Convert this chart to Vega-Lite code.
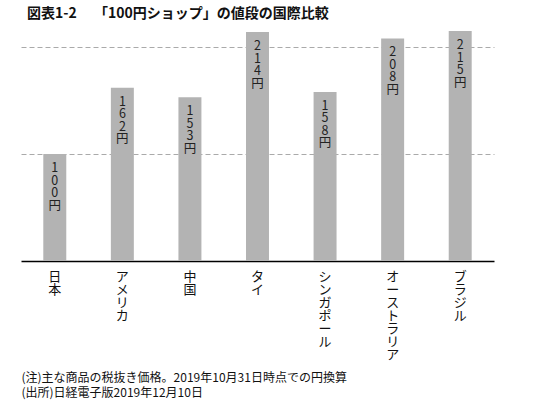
{
  "$schema": "https://vega.github.io/schema/vega-lite/v6.json",
  "width": 473,
  "height": 230,
  "autosize": {"type": "none"},
  "padding": {"left": 21, "top": 31, "right": 46, "bottom": 150},
  "config": {
    "font": "Noto Sans CJK JP",
    "view": {"stroke": null}
  },
  "title": {
    "text": "図表1-2　 「100円ショップ」の値段の国際比較",
    "anchor": "start",
    "fontSize": 14,
    "fontWeight": "bold",
    "color": "#111111",
    "dx": 6,
    "offset": 10
  },
  "data": {
    "values": [
      {"country": "日本", "price": 100},
      {"country": "アメリカ", "price": 162},
      {"country": "中国", "price": 153},
      {"country": "タイ", "price": 214},
      {"country": "シンガポール", "price": 158},
      {"country": "オーストラリア", "price": 208},
      {"country": "ブラジル", "price": 215}
    ]
  },
  "transform": [
    {"calculate": "split(datum.price + '円', '')", "as": "lbl"}
  ],
  "encoding": {
    "x": {
      "field": "country",
      "type": "nominal",
      "sort": null,
      "scale": {"paddingInner": 0.66, "paddingOuter": 0.33},
      "axis": {
        "domainColor": "#000000",
        "domainWidth": 1.5,
        "ticks": false,
        "labelAngle": 0,
        "labelExpr": "split(datum.label, '')",
        "labelBaseline": "top",
        "labelAlign": "center",
        "labelFontSize": 13,
        "labelLineHeight": 13,
        "labelPadding": 9,
        "labelColor": "#111111",
        "title": [
          "(注)主な商品の税抜き価格。2019年10月31日時点での円換算",
          "(出所)日経電子版2019年12月10日"
        ],
        "titleAnchor": "start",
        "titleAlign": "left",
        "titleFontSize": 12,
        "titleFontWeight": "normal",
        "titleLineHeight": 15,
        "titleColor": "#111111",
        "titlePadding": 11
      }
    },
    "y": {
      "field": "price",
      "type": "quantitative",
      "scale": {"domain": [0, 215], "nice": false},
      "axis": {
        "values": [100, 200],
        "grid": true,
        "gridDash": [5, 3],
        "gridColor": "#aaaaaa",
        "labels": false,
        "ticks": false,
        "domain": false,
        "title": null
      }
    }
  },
  "layer": [
    {
      "mark": {"type": "bar", "color": "#b3b3b3"}
    },
    {
      "mark": {
        "type": "text",
        "baseline": "top",
        "align": "center",
        "dy": 8,
        "fontSize": 12.5,
        "lineHeight": 12.5,
        "color": "#222222"
      },
      "encoding": {
        "text": {"field": "lbl", "type": "nominal"}
      }
    }
  ]
}
